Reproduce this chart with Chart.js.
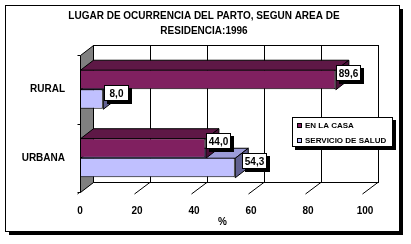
<!DOCTYPE html>
<html>
<head>
<meta charset="utf-8">
<script src="https://cdn.jsdelivr.net/npm/chart.js@4/dist/chart.umd.min.js"></script>
<style>
  body { margin: 0; background: #fff; }
  canvas { display: block; }
</style>
</head>
<body>
<canvas id="graficoParto" width="411" height="244"></canvas>
<script>
// datos del grafico
const titulo = ['LUGAR DE OCURRENCIA DEL PARTO, SEGUN AREA DE', 'RESIDENCIA:1996'];
const categorias = ['RURAL', 'URBANA'];
const series = ['EN LA CASA', 'SERVICIO DE SALUD'];
const enLaCasa = [89.6, 44.0];
const servicioSalud = [8.0, 54.3];
const ejeMin = 0;
const ejeMax = 100;
const paso = 20;

const DX = 13, DY = -10; // profundidad 3D
const fuente = 'Arial, "Liberation Sans", sans-serif';

const coloresFrente = ['#802060', '#C0C0FF'];
const coloresArriba = ['#5E1846', '#9C9CD8'];
const coloresLado = ['#4A1038', '#606090'];

function poly(ctx, pts, fill) {
  ctx.beginPath();
  ctx.moveTo(pts[0][0], pts[0][1]);
  for (let i = 1; i < pts.length; i++) ctx.lineTo(pts[i][0], pts[i][1]);
  ctx.closePath();
  ctx.fillStyle = fill;
  ctx.fill();
  ctx.stroke();
}

const efecto3D = {
  id: 'efecto3D',
  beforeDraw(chart) {
    const ctx = chart.ctx;
    ctx.save();
    ctx.fillStyle = '#fff';
    ctx.fillRect(0, 0, chart.width, chart.height);
    ctx.fillStyle = '#000';
    ctx.fillRect(400, 9, 3, 226);
    ctx.fillRect(9, 232, 394, 3);
    ctx.strokeStyle = '#000';
    ctx.lineWidth = 1;
    ctx.strokeRect(5.5, 5.5, 394, 226);
    // titulo
    ctx.font = 'bold 10px ' + fuente;
    ctx.textAlign = 'center';
    ctx.textBaseline = 'middle';
    titulo.forEach((t, i) => ctx.fillText(t, 204, 16 + i * 15));
    ctx.restore();
  },
  beforeDatasetsDraw(chart) {
    const { ctx, chartArea: { left, right, top, bottom }, scales: { x } } = chart;
    ctx.save();
    ctx.strokeStyle = '#000';
    ctx.lineWidth = 1;
    // pared del fondo
    ctx.fillStyle = '#fff';
    ctx.fillRect(left + DX, top + DY, right - left, bottom - top);
    ctx.strokeRect(left + DX + 0.5, top + DY + 0.5, right - left, bottom - top);
    // lineas de division
    x.ticks.forEach(t => {
      const px = Math.round(x.getPixelForValue(t.value)) + 0.5;
      ctx.beginPath();
      ctx.moveTo(px + DX, top + DY);
      ctx.lineTo(px + DX, bottom + DY);
      ctx.stroke();
      // piso
      ctx.beginPath();
      ctx.moveTo(px - 3, bottom + 2);
      ctx.lineTo(px + DX, bottom + DY);
      ctx.stroke();
    });
    // pared lateral
    const l = left + 0.5;
    poly(ctx, [[l, top + 0.5], [l + DX, top + DY + 0.5], [l + DX, bottom + DY + 0.5], [l, bottom + 0.5]], '#808080');
    // marcas eje vertical
    [top, (top + bottom) / 2, bottom].forEach(y => {
      const yy = Math.round(y) + 0.5;
      ctx.beginPath();
      ctx.moveTo(l - 3, yy);
      ctx.lineTo(l, yy);
      ctx.stroke();
    });
    // caras superior y lateral de las barras
    for (let d = chart.data.datasets.length - 1; d >= 0; d--) {
      chart.getDatasetMeta(d).data.forEach(bar => {
        const x0 = bar.base + 0.5, x1 = bar.x + 0.5;
        const y0 = bar.y - bar.height / 2 + 0.5, y1 = bar.y + bar.height / 2 + 0.5;
        poly(ctx, [[x0, y0], [x0 + DX, y0 + DY], [x1 + DX, y0 + DY], [x1, y0]], coloresArriba[d]);
        poly(ctx, [[x1, y0], [x1 + DX, y0 + DY], [x1 + DX, y1 + DY], [x1, y1]], coloresLado[d]);
      });
    }
    ctx.restore();
  },
  afterDatasetsDraw(chart) {
    const ctx = chart.ctx;
    ctx.save();
    ctx.font = 'bold 10px ' + fuente;
    ctx.textAlign = 'center';
    ctx.textBaseline = 'middle';
    ctx.lineWidth = 1;
    ctx.strokeStyle = '#000';
    chart.data.datasets.forEach((ds, d) => {
      chart.getDatasetMeta(d).data.forEach((bar, i) => {
        const txt = ds.data[i].toFixed(1).replace('.', ',');
        const w = 25, h = 16;
        const bx = Math.round(bar.x) + 1 + (d === 1 && ds.data[i] > 20 ? 6 : 0);
        const by = Math.round(bar.y - 6.5 - h / 2);
        ctx.fillStyle = '#000';
        ctx.fillRect(bx + 3, by + 3, w, h);
        ctx.fillStyle = '#fff';
        ctx.fillRect(bx, by, w, h);
        ctx.strokeRect(bx + 0.5, by + 0.5, w - 1, h - 1);
        ctx.fillStyle = '#000';
        ctx.fillText(txt, bx + w / 2, by + h / 2 + 1);
      });
    });
    // leyenda
    const lx = 292, ly = 117, lw = 101, lh = 30;
    ctx.fillStyle = '#000';
    ctx.fillRect(lx + 3, ly + 3, lw, lh);
    ctx.fillStyle = '#fff';
    ctx.fillRect(lx, ly, lw, lh);
    ctx.strokeRect(lx + 0.5, ly + 0.5, lw - 1, lh - 1);
    ctx.font = 'bold 8px ' + fuente;
    ctx.textAlign = 'left';
    series.forEach((s, k) => {
      const y = ly + 8 + k * 15;
      ctx.fillStyle = coloresFrente[k];
      ctx.fillRect(lx + 5, y - 2, 5, 5);
      ctx.strokeRect(lx + 5.5, y - 1.5, 4, 4);
      ctx.fillStyle = '#000';
      ctx.fillText(s, lx + 13, y + 1);
    });
    ctx.restore();
  }
};

const ctx = document.getElementById('graficoParto').getContext('2d');

const graficoParto = new Chart(ctx, {
  type: 'bar',
  data: {
    labels: categorias,
    datasets: [{
      label: series[0],
      data: enLaCasa,
      backgroundColor: coloresFrente[0],
      borderColor: '#000',
      borderWidth: 1,
      borderSkipped: false,
      barPercentage: 1,
      categoryPercentage: 0.57
    }, {
      label: series[1],
      data: servicioSalud,
      backgroundColor: coloresFrente[1],
      borderColor: '#000',
      borderWidth: 1,
      borderSkipped: false,
      barPercentage: 1,
      categoryPercentage: 0.57
    }]
  },
  options: {
    indexAxis: 'y',
    responsive: false,
    animation: false,
    layout: { padding: { left: 6, right: 46, top: 55, bottom: 12 } },
    plugins: {
      legend: { display: false },
      tooltip: { enabled: false },
      title: { display: false }
    },
    scales: {
      x: {
        min: ejeMin,
        max: ejeMax,
        ticks: { stepSize: paso, padding: 5, color: '#000', font: { family: fuente, size: 10, weight: 'bold' } },
        grid: { display: false },
        border: { display: false },
        title: { display: true, text: '%', color: '#000', font: { family: fuente, size: 10, weight: 'bold' }, padding: { top: 0, bottom: 4 } },
        afterFit(scale) { scale.height = 40; }
      },
      y: {
        ticks: { padding: 7, color: '#000', font: { family: fuente, size: 10, weight: 'bold' } },
        grid: { display: false },
        border: { display: false },
        afterFit(scale) { scale.width = 74; }
      }
    }
  },
  plugins: [efecto3D]
});
</script>
</body>
</html>
